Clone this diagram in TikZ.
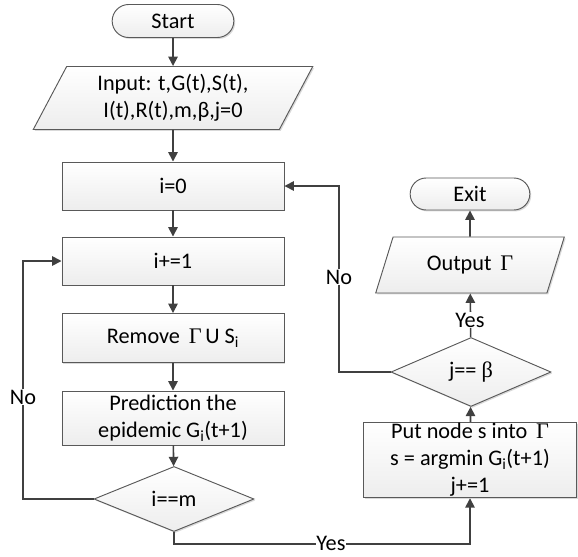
\documentclass[tikz,border=0pt]{standalone}
\usepackage{fontspec}
\setmainfont{Carlito}
\newfontfamily\grserif{Liberation Serif}
\usetikzlibrary{shapes.geometric,shapes.misc,arrows.meta,shadows}
\newcommand{\Gm}{{\grserif Γ}}
\begin{document}
\begin{tikzpicture}[x=0.03cm,y=-0.03cm,>={Triangle[length=8pt,width=8pt]},
	font=\fontsize{19}{23}\selectfont,
	base/.style={draw=gray!70!black,line width=0.8pt,top color=white,bottom color=gray!14,
		drop shadow={shadow xshift=1.2pt,shadow yshift=-1.2pt,opacity=0.3,fill=gray},align=center,inner sep=1pt},
	proc/.style={base,rectangle,minimum width=6.66cm},
	term/.style={base,rounded rectangle,minimum height=0.99cm},
	dec/.style={base,diamond,minimum width=4.8cm},
	io/.style={base,trapezium,trapezium left angle=64,trapezium right angle=116,trapezium stretches=true},
	line/.style={draw=black!75,line width=1.4pt},
	lbl/.style={fill=white,inner sep=0.5pt}]
	\useasboundingbox (0,0) rectangle (578,557);
	\node[term,minimum width=3.72cm] (start) at (173,21) {Start};
	\node[io,minimum width=8.4cm,minimum height=1.89cm] (input) at (173,98) {Input: t,G(t),S(t),\\I(t),R(t),m,β,j=0};
	\node[proc,minimum height=1.44cm] (i0) at (173,186) {i=0};
	\node[proc,minimum height=1.44cm] (inc) at (173,261) {i+=1};
	\node[proc,minimum height=1.47cm] (remove) at (173,338) {Remove \,\Gm\,U S\textsubscript{i}};
	\node[proc,minimum height=1.62cm] (predict) at (173,418) {Prediction the\\epidemic G\textsubscript{i}(t+1)};
	\node[dec,minimum height=1.62cm] (dm) at (174,499) {i==m};
	\node[proc,minimum width=6.39cm,minimum height=2.25cm] (put) at (470,460) {Put node s into \,\Gm\\s = argmin G\textsubscript{i}(t+1)\\j+=1};
	\node[dec,minimum height=1.56cm] (dj) at (471,372) {j== {\grserif β}};
	\node[io,minimum width=5.7cm,minimum height=1.68cm] (output) at (470,265) {Output \,\Gm};
	\node[term,minimum width=3.66cm,minimum height=0.96cm] (exit) at (470,194) {Exit};
	\coordinate (lc) at (23,261);
	\coordinate (rc) at (339,186);
	\coordinate (yb) at (470,544);
	\draw[->,line] (start) -- (input);
	\draw[->,line] (input) -- (i0);
	\draw[->,line] (i0) -- (inc);
	\draw[->,line] (inc) -- (remove);
	\draw[->,line] (remove) -- (predict);
	\draw[->,line] (predict) -- (dm);
	\draw[->,line] (dm.west) -| (lc) -- (inc.west);
	\draw[->,line] (dm.south) |- (yb) -- (put.south);
	\draw[->,line] (put) -- (dj);
	\draw[->,line] (dj.west) -| (rc) -- (i0.east);
	\draw[->,line] (dj) -- (output);
	\draw[->,line] (output) -- (exit);
	\node[lbl] (no1) at (23,397) {No};
	\node[lbl] (no2) at (339,277) {No};
	\node[lbl] (yes1) at (331,543) {Yes};
	\node[lbl] (yes2) at (470,320) {Yes};
\end{tikzpicture}
\end{document}
